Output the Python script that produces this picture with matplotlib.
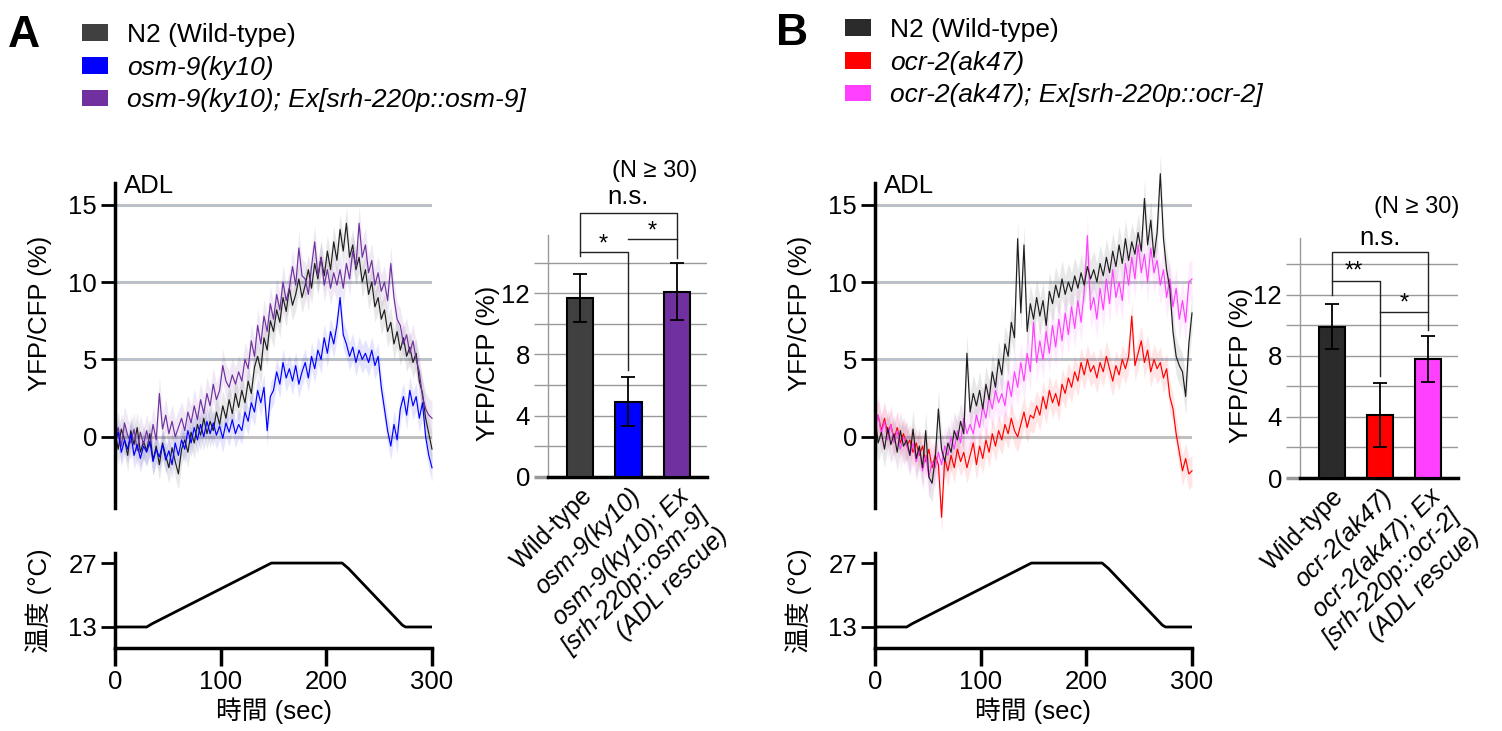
import numpy as np
import matplotlib.pyplot as plt
from matplotlib.patches import Patch

plt.rcParams['font.family'] = ['Liberation Sans', 'Noto Sans CJK JP', 'DejaVu Sans']

# ---- calcium traces, YFP/CFP (%), sampled every 3 s from 0 to 300 s ----
t_sec = np.arange(0, 301, 3)

a_n2 = [0.3, -0.8, 0.5, -0.2, -1.2, 0.4, -0.5, 0.6, -1.0, -0.3,
        -0.9, 0.2, -1.5, -0.6, -1.8, -0.4, -1.2, -2.0, -0.7, -1.6,
        -2.4, -0.8, -0.2, -1.0, 0.3, -0.4, 0.8, 0.1, 1.2, 0.2,
        1.0, 0.4, 1.6, 0.8, 2.0, 1.2, 2.4, 1.5, 2.8, 1.9,
        3.0, 2.2, 3.6, 2.8, 4.5, 5.2, 4.3, 6.4, 5.6, 7.5,
        6.8, 8.2, 7.4, 9.0, 8.1, 9.6, 8.5, 9.2, 10.2, 9.0,
        9.8, 10.8, 9.6, 11.2, 10.2, 11.6, 10.4, 12.0, 10.8, 12.6,
        11.4, 13.4, 12.0, 13.8, 11.6, 12.4, 10.8, 11.6, 10.0, 10.8,
        9.2, 10.0, 8.4, 9.0, 7.6, 8.2, 6.8, 7.4, 6.0, 6.8,
        5.6, 6.4, 5.2, 5.8, 4.8, 5.4, 3.6, 2.8, 1.2, 0.2,
        -0.8]
a_osm9 = [-0.4, 0.3, -1.0, -0.2, -0.8, 0.2, -1.2, -0.5, -1.4, -0.6,
          -1.0, -0.3, -1.6, -0.8, -1.3, -0.5, -1.5, -0.9, -1.8, -0.4,
          -1.2, -0.2, -0.8, 0.4, -0.4, 0.6, -0.2, 0.8, 0.0, 1.0,
          0.2, 0.9, 0.1, 0.7, -0.1, 0.9, 0.3, 1.1, 0.2, 0.8,
          0.4, 1.6, 1.0, 2.2, 1.6, 3.0, 2.2, 3.2, 0.4, 2.6,
          3.0, 4.2, 3.4, 4.8, 3.8, 4.4, 3.6, 4.6, 3.4, 4.2,
          4.8, 3.8, 5.2, 4.4, 5.6, 5.0, 6.4, 5.4, 6.8, 6.0,
          7.2, 9.0, 6.6, 6.0, 5.2, 5.8, 4.8, 5.6, 5.0, 5.4,
          4.8, 5.6, 4.6, 5.2, 3.2, 1.8, 0.4, -0.6, 0.8, -0.2,
          1.8, 2.6, 1.4, 3.0, 2.0, 2.6, 1.2, 2.2, 0.0, -1.2,
          -2.0]
a_rescue = [-0.2, 0.6, -0.6, 0.9, 0.1, -0.4, 0.5, -0.9, 0.3, -0.5,
            0.4, -0.6, 0.8, -0.2, 2.8, 0.5, 1.4, 0.2, 1.0, 0.0,
            0.6, 1.2, 0.4, 1.6, 0.9, 2.0, 1.1, 2.4, 1.5, 2.8,
            2.0, 3.4, 2.4, 3.0, 4.6, 3.6, 3.2, 4.0, 3.4, 4.2,
            3.6, 5.0, 4.4, 6.2, 5.2, 7.2, 6.0, 7.8, 6.8, 8.6,
            7.6, 9.2, 8.2, 10.0, 8.8, 9.6, 11.0, 9.8, 12.2, 10.4,
            10.2, 9.2, 11.0, 12.6, 10.4, 11.6, 9.8, 10.8, 9.6, 10.6,
            9.8, 10.8, 9.6, 11.2, 10.2, 12.0, 11.0, 13.8, 11.6, 12.4,
            10.6, 11.4, 9.8, 10.6, 9.4, 10.0, 8.8, 11.2, 9.0, 7.6,
            7.2, 6.0, 6.6, 5.4, 6.2, 5.0, 4.2, 2.6, 1.8, 1.4,
            1.2]

b_n2 = [1.2, -0.4, 0.3, -0.8, 0.6, -0.5, 0.2, -1.0, 0.4, -0.6,
        -0.2, -1.2, 0.5, -1.4, -0.6, -2.0, 0.4, -2.6, -3.0, -1.4,
        1.8, -0.8, -1.6, -0.4, -1.0, 0.4, -0.2, 1.0, 0.2, 5.4,
        1.6, 2.8, 2.0, 3.0, 1.8, 3.4, 2.4, 4.2, 3.2, 5.0,
        4.0, 6.0, 5.2, 7.4, 6.4, 12.8, 8.0, 12.4, 6.8, 8.6,
        7.6, 9.0, 7.8, 8.8, 7.2, 9.4, 8.6, 9.8, 9.0, 10.2,
        9.2, 10.0, 9.4, 10.4, 9.6, 10.6, 9.8, 11.0, 10.2, 10.8,
        10.0, 11.2, 10.4, 11.6, 10.6, 12.0, 11.0, 12.4, 11.2, 12.8,
        11.4, 12.6, 11.8, 13.2, 12.0, 15.4, 12.4, 14.0, 11.6, 13.2,
        17.0, 12.8, 10.8, 9.6, 6.8, 5.2, 4.6, 4.2, 2.6, 6.0,
        8.0]
b_ocr2 = [0.8, 1.4, 0.4, 1.2, 0.2, 0.8, -0.2, 0.6, -0.4, 0.2,
          -0.6, -0.2, -1.0, -0.4, -1.2, -0.6, -1.6, -0.8, -2.0, -1.2,
          -1.8, -5.2, -1.4, -2.2, -1.2, -2.0, -0.8, -1.6, -1.0, -2.0,
          -1.2, -0.4, -1.8, -0.6, -1.4, -0.2, -1.0, 0.2, -0.6, 0.4,
          -0.2, 0.8, 0.2, 1.2, 0.4, 0.0, 0.8, 1.6, 0.6, 1.4,
          1.2, 2.0, 1.4, 2.6, 1.8, 3.0, 2.2, 2.8, 2.0, 3.4,
          2.8, 3.8, 3.2, 4.2, 3.6, 4.8, 4.0, 5.0, 4.2, 4.6,
          3.8, 4.8, 4.2, 5.2, 4.4, 3.6, 4.6, 4.0, 5.0, 4.4,
          5.2, 7.8, 4.6, 5.4, 6.2, 4.8, 5.6, 4.2, 5.0, 4.4,
          4.8, 3.8, 4.4, 2.6, 1.8, 0.2, -1.0, -2.2, -1.4, -2.4,
          -2.2]
b_rescue = [0.6, 1.4, 0.2, 1.0, -0.2, 0.8, -0.4, 0.4, -0.8, 0.0,
            -0.6, -1.2, -0.4, -1.6, -0.8, -2.2, -1.2, -2.6, -1.6, -2.0,
            -1.0, -1.8, -0.6, -1.2, 0.0, -0.8, 0.4, -0.4, 1.2, 0.2,
            0.8, 0.2, 1.4, 0.6, 2.0, 1.2, 2.6, 1.8, 3.0, 2.2,
            2.8, 2.0, 3.6, 2.6, 4.2, 3.2, 4.8, 3.6, 5.4, 4.2,
            7.4, 4.8, 6.2, 5.0, 6.8, 5.4, 7.2, 5.8, 7.6, 6.2,
            8.0, 6.6, 8.4, 7.0, 8.8, 7.4, 9.4, 13.0, 8.2, 9.0,
            7.6, 9.6, 8.2, 10.2, 8.6, 10.8, 9.0, 10.0, 8.8, 11.2,
            9.8, 11.6, 10.2, 12.4, 10.6, 11.8, 10.0, 12.2, 10.6, 11.4,
            9.8, 10.8, 9.0, 10.2, 8.4, 9.6, 7.6, 8.8, 7.4, 10.0,
            10.2]

# SEM half-width of the shaded bands (%)
sem_a = [1.0, 0.9, 1.1]
sem_b = [1.2, 1.0, 1.3]

# ---- temperature program ----
temp_t = [0, 30, 35, 148, 215, 221, 272, 275, 300]
temp_c = [13, 13, 13.7, 27, 27, 25.8, 13.4, 13, 13]

# ---- bar charts (mean +/- SEM) ----
bar_a_mean = [11.7, 4.9, 12.1]
bar_a_sem = [1.55, 1.6, 1.85]
bar_b_mean = [9.9, 4.1, 7.8]
bar_b_sem = [1.45, 2.1, 1.5]

labels_a = ['Wild-type', 'osm-9(ky10)', 'osm-9(ky10); Ex\n[srh-220p::osm-9]\n(ADL rescue)']
labels_b = ['Wild-type', 'ocr-2(ak47)', 'ocr-2(ak47); Ex\n[srh-220p::ocr-2]\n(ADL rescue)']
legend_a = ['N2 (Wild-type)', 'osm-9(ky10)', 'osm-9(ky10); Ex[srh-220p::osm-9]']
legend_b = ['N2 (Wild-type)', 'ocr-2(ak47)', 'ocr-2(ak47); Ex[srh-220p::ocr-2]']

col_a = ['#1e1e1e', '#0000ff', '#7030a0']
col_b = ['#1e1e1e', '#ff0000', '#ff40ff']
bar_col_a = ['#404040', '#0000ff', '#7030a0']
bar_col_b = ['#2b2b2b', '#ff0000', '#ff40ff']

FS = 18.5
W, H = 1502, 731
fig = plt.figure(figsize=(W / 100, H / 100), dpi=100)


def rect(x0, y_top, x1, y_bot):
    return [x0 / W, 1 - y_bot / H, (x1 - x0) / W, (y_bot - y_top) / H]


def trace_panel(r, series):
    ax = fig.add_axes(r)
    for y in (0, 5, 10, 15):
        ax.axhline(y, color='#c0c0c0', lw=2.2, zorder=0)
        if y:
            ax.axhline(y, color='#a8c8e8', lw=0.7, ls=(0, (4, 4)), zorder=0)
    for vals, sem, col in series:
        v = np.asarray(vals)
        ax.fill_between(t_sec, v - sem, v + sem, color=col, alpha=0.1, lw=0,
                        clip_on=False)
        ax.plot(t_sec, v, color=col, lw=0.85, clip_on=False)
    ax.set_xlim(0, 300)
    ax.set_ylim(-4.6, 16.4)
    for s in ('top', 'right', 'bottom'):
        ax.spines[s].set_visible(False)
    ax.spines['left'].set_linewidth(2.5)
    ax.set_xticks([])
    ax.set_yticks([0, 5, 10, 15])
    ax.tick_params(axis='y', length=10, width=2, labelsize=FS, pad=3)
    ax.set_ylabel('YFP/CFP (%)', fontsize=FS)
    ax.yaxis.set_label_coords(-0.20, 0.6)
    ax.text(8, 16.2, 'ADL', fontsize=FS, ha='left', va='center')
    return ax


def temp_panel(r):
    ax = fig.add_axes(r)
    ax.plot(temp_t, temp_c, color='k', lw=2)
    ax.set_xlim(0, 300)
    ax.set_ylim(8.4, 29.2)
    for s in ('top', 'right'):
        ax.spines[s].set_visible(False)
    for s in ('left', 'bottom'):
        ax.spines[s].set_linewidth(2.5)
    ax.set_xticks([0, 100, 200, 300])
    ax.set_yticks([13, 27])
    ax.tick_params(axis='x', length=13, width=2.5, labelsize=FS, pad=3)
    ax.tick_params(axis='y', length=10, width=2, labelsize=FS, pad=3)
    ax.set_xlabel('時間 (sec)', fontsize=FS, labelpad=2)
    ax.set_ylabel('温度 (°C)', fontsize=FS)
    ax.yaxis.set_label_coords(-0.20, 0.5)
    return ax


def bar_panel(r, means, sems, cols, labels, ytop):
    ax = fig.add_axes(r)
    x = np.arange(len(means))
    ax.bar(x, means, width=0.55, color=cols, edgecolor='k', lw=1.5, zorder=3)
    ax.errorbar(x, means, yerr=sems, fmt='none', ecolor='k', elinewidth=1.3,
                capsize=5, capthick=1.3, zorder=4)
    ax.set_xlim(-0.66, 2.62)
    ax.set_ylim(0, ytop)
    ticks = np.arange(0, 15, 2)
    ax.set_yticks(ticks)
    ax.set_yticklabels([str(v) if v % 4 == 0 else '' for v in ticks])
    ax.yaxis.grid(True, color='#999999', lw=1, zorder=0)
    ax.set_axisbelow(True)
    ax.tick_params(axis='y', length=10, width=1, color='#999999', labelsize=FS, pad=3)
    t0 = ax.yaxis.get_major_ticks()[0].tick1line
    t0.set_color('k')
    t0.set_markeredgewidth(2.5)
    for s in ('top', 'right'):
        ax.spines[s].set_visible(False)
    ax.spines['left'].set_color('#999999')
    ax.spines['left'].set_linewidth(1)
    ax.spines['bottom'].set_linewidth(2.5)
    ax.set_xticks(x)
    ax.set_xticklabels(labels, rotation=45, ha='right', va='top',
                       rotation_mode='anchor', fontsize=18)
    for i, tl in enumerate(ax.get_xticklabels()):
        if i > 0:
            tl.set_fontstyle('italic')
    ax.tick_params(axis='x', length=0, pad=5)
    ax.set_ylabel('YFP/CFP (%)', fontsize=FS)
    ax.yaxis.set_label_coords(-0.30, 0.47)
    return ax


def bracket(ax, xs, ys):
    ax.plot(xs, ys, color='#222222', lw=1, clip_on=False)


# ---------------- Panel A ----------------
trace_panel(rect(115, 183, 432, 508),
            [(a_n2, sem_a[0], col_a[0]), (a_rescue, sem_a[2], col_a[2]),
             (a_osm9, sem_a[1], col_a[1])])
temp_panel(rect(115, 553, 432, 648))
axa = bar_panel(rect(548, 235, 707, 477), bar_a_mean, bar_a_sem, bar_col_a,
                labels_a, 15.8)
bracket(axa, [0, 0, 2, 2], [14.4, 17.25, 17.25, 14.3])
bracket(axa, [0, 1, 1], [14.7, 14.7, 7.0])
bracket(axa, [1, 2], [15.55, 15.55])
axa.text(1, 18.3, 'n.s.', fontsize=FS, ha='center', va='center')
axa.text(0.47, 15.2, '*', fontsize=17, ha='center', va='center')
axa.text(1.5, 16.05, '*', fontsize=17, ha='center', va='center')
axa.text(1.55, 20.0, '(N ≥ 30)', fontsize=17, ha='center', va='center')

# ---------------- Panel B ----------------
trace_panel(rect(875, 183, 1192, 508),
            [(b_ocr2, sem_b[1], col_b[1]), (b_rescue, sem_b[2], col_b[2]),
             (b_n2, sem_b[0], col_b[0])])
temp_panel(rect(875, 553, 1192, 648))
axb = bar_panel(rect(1300, 238, 1458, 478), bar_b_mean, bar_b_sem, bar_col_b,
                labels_b, 15.7)
bracket(axb, [0, 0, 2, 2], [12.0, 14.8, 14.8, 9.7])
bracket(axb, [0, 1, 1], [12.9, 12.9, 6.7])
bracket(axb, [1, 2], [10.85, 10.85])
axb.text(1, 15.7, 'n.s.', fontsize=FS, ha='center', va='center')
axb.text(0.45, 13.5, '**', fontsize=17, ha='center', va='center')
axb.text(1.5, 11.4, '*', fontsize=17, ha='center', va='center')
axb.text(1.77, 17.7, '(N ≥ 30)', fontsize=17, ha='center', va='center')

# ---------------- legends & panel letters ----------------
for names, cols, (lx, ly) in ((legend_a, [bar_col_a[0], col_a[1], col_a[2]], (82, 23)),
                              (legend_b, [bar_col_b[0], col_b[1], col_b[2]], (845, 18))):
    leg = fig.legend([Patch(facecolor=c, edgecolor='none') for c in cols], names,
                     loc='upper left', bbox_to_anchor=(lx / W, 1 - ly / H),
                     frameon=False, fontsize=19, handlelength=1.0,
                     handleheight=0.6, handletextpad=0.7, labelspacing=0.33,
                     borderpad=0, borderaxespad=0)
    for tx in leg.get_texts()[1:]:
        tx.set_fontstyle('italic')

fig.text(8 / W, 1 - 47 / H, 'A', fontsize=32, fontweight='bold', va='baseline')
fig.text(776 / W, 1 - 45 / H, 'B', fontsize=32, fontweight='bold', va='baseline')

fig.savefig('out.png', dpi=100)
